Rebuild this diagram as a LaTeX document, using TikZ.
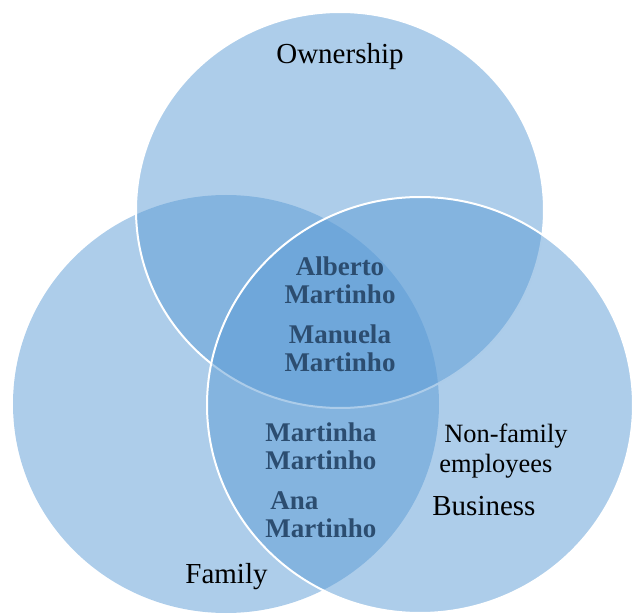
\documentclass[tikz,border=0pt]{standalone}
\usepackage{fontspec}
\setmainfont{Liberation Serif}
\usetikzlibrary{positioning}
\definecolor{vennblue}{RGB}{91,155,213}
\definecolor{nametext}{RGB}{44,77,112}

\begin{document}
\begin{tikzpicture}[x=0.5pt, y=-0.5pt,
  set/.style={fill=vennblue, fill opacity=0.5},
  setline/.style={set, draw=white, line width=1pt},
  lbl/.style={inner sep=0pt, font=\fontsize{14.5}{16}\selectfont},
  person/.style={inner sep=0pt, text=nametext,
    font=\fontsize{13.5}{14}\selectfont\bfseries}
]
\useasboundingbox (0,0) rectangle (633,615);
% the three sets: family, ownership, business
\fill[set] (226,404) ellipse [x radius=213, y radius=209];
\draw[setline] (340,210) ellipse [x radius=204, y radius=198];
\draw[setline] (420,405) ellipse [x radius=213, y radius=208];

\node[lbl, anchor=base] (own) at (340,64) {Ownership};
\node[lbl, anchor=base west] (fam) at (185,583) {Family};
\node[lbl, anchor=base west] (bus) at (432,515) {Business};
\node[lbl, font=\fontsize{13.2}{15}\selectfont, align=left, anchor=base west]
  (nonfam) at (439,473) {\hspace*{2.5pt}Non-family\\employees};

% family owners who work in the business
\node[person, align=center, anchor=base] (alberto) at (340,304) {Alberto\\Martinho};
\node[person, align=center, below=10pt of alberto] (manuela) {Manuela\\Martinho};
% family members working in the business
\node[person, align=left, anchor=base west] (martinha) at (265,469) {Martinha\\Martinho};
\node[person, align=left, below=11pt of martinha.south west, anchor=north west]
  (ana) {\hspace*{2.5pt}Ana\\Martinho};
\end{tikzpicture}
\end{document}
